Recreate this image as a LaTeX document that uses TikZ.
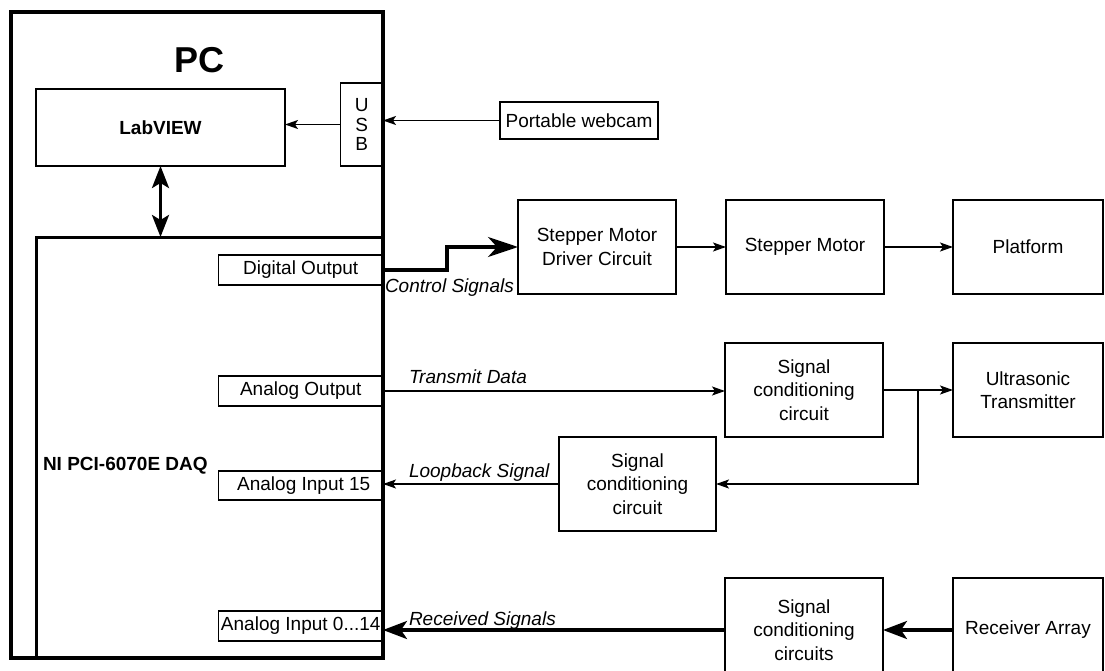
\documentclass[tikz,border=0pt]{standalone}
\usepackage{fontspec}
\setmainfont{Liberation Sans}
\usetikzlibrary{arrows.meta}
\begin{document}
\begin{tikzpicture}[x=1pt,y=-1pt,
  every node/.style={font=\fontsize{19}{22}\selectfont, inner sep=0pt, outer sep=0pt},
  box/.style={draw, line width=1.8pt, align=center, font=\fontsize{19}{23.5}\selectfont},
  heavybox/.style={draw, line width=3.5pt},
  lbl/.style={font=\fontsize{19}{22}\selectfont\itshape, anchor=west},
  thinarrow/.style={line width=1.6pt, -{Stealth[length=13pt, width=9pt, inset=3pt]}},
  thickarrow/.style={line width=3.2pt, -{Stealth[length=24pt, width=18pt, inset=6pt]}},
  bigarrow/.style={line width=3.2pt, -{Stealth[length=30pt, width=20pt, inset=9pt]}},
  dblarrow/.style={line width=3.2pt, {Stealth[length=22pt, width=17pt, inset=5pt]}-{Stealth[length=22pt, width=17pt, inset=5pt]}}
]
\useasboundingbox (0,0) rectangle (1105,671);

% PC and DAQ frames
\node[heavybox, minimum width=372pt, minimum height=646pt] (pc) at (197,335) {};
\node[font=\fontsize{36}{40}\selectfont\bfseries, anchor=base] (pclbl) at (199.5,73) {PC};
\node[box, minimum width=249pt, minimum height=77pt] (lab) at (160.5,127.5) {};
\node[font=\fontsize{19}{22}\selectfont\bfseries, anchor=base] (lablbl) at (160.5,135) {LabVIEW};
\node[box, minimum width=42.5pt, minimum height=83pt, font=\fontsize{19}{19.5}\selectfont] (usb) at (361.75,124.5) {U\\S\\B};
\node[box, minimum width=158pt, minimum height=37pt] (cam) at (579,120.5) {Portable webcam};

\node[draw, line width=3pt, minimum width=347pt, minimum height=421pt] (daq) at (209.5,447.5) {};
\node[font=\fontsize{19}{22}\selectfont\bfseries, anchor=base west] (daqlbl) at (43,470) {NI PCI-6070E DAQ};

% ports
\node[box, minimum width=164.5pt, minimum height=30pt] (dout) at (300.75,270) {Digital Output};
\node[box, minimum width=164.5pt, minimum height=30pt] (aout) at (300.75,391) {Analog Output};
\node[box, minimum width=164.5pt, minimum height=29pt] (ain15) at (300.75,485.5) {\hspace*{6pt}Analog Input 15};
\node[box, minimum width=164.5pt, minimum height=30pt] (ain) at (300.75,626) {Analog Input 0...14};

% right-hand blocks
\node[box, minimum width=158pt, minimum height=94pt] (drv) at (597,247) {Stepper Motor\\Driver Circuit};
\node[box, minimum width=158pt, minimum height=94pt] (stm) at (805,247) {Stepper Motor};
\node[box, minimum width=150pt, minimum height=94pt] (plat) at (1028,247) {Platform};
\node[box, minimum width=158pt, minimum height=94pt] (tsc) at (804,390) {Signal\\conditioning\\circuit};
\node[box, minimum width=150pt, minimum height=94pt] (ut) at (1028,390) {Ultrasonic\\Transmitter};
\node[box, minimum width=157pt, minimum height=94pt] (lsc) at (637.5,484) {Signal\\conditioning\\circuit};
\node[box, minimum width=158pt, minimum height=104pt] (rsc) at (804,630) {Signal\\conditioning\\circuits};
\node[box, minimum width=150pt, minimum height=104pt] (rx) at (1028,630) {Receiver Array};

% connectors
\draw[thinarrow] (cam.west) -- (cam.west -| usb.east);
\draw[thinarrow] (usb.west) -- (usb.west -| lab.east);
\draw[dblarrow] (lab.south) -- (lab.south |- daq.north);
\draw[bigarrow] (dout.east) -- ++(64,0) |- (drv.west);
\draw[thinarrow] (drv.east) -- (stm.west);
\draw[thinarrow] (stm.east) -- (plat.west);
\draw[thinarrow] (aout.east) -- (aout.east -| tsc.west);
\draw[thinarrow] (tsc.east) -- (ut.west);
\coordinate (br) at (918,390);
\draw[thinarrow] (br) |- (lsc.east);
\draw[thinarrow] (lsc.west) -- (lsc.west -| ain15.east);
\draw[thickarrow] (rsc.west) -- (rsc.west -| ain.east);
\draw[thickarrow] (rx.west) -- (rsc.east);

% connector labels
\node[lbl] (cs) at (385,288) {Control Signals};
\node[lbl] (td) at (409,377) {Transmit Data};
\node[lbl] (lb) at (409,473) {Loopback Signal};
\node[lbl] (rs) at (409,621) {Received Signals};
\end{tikzpicture}
\end{document}
